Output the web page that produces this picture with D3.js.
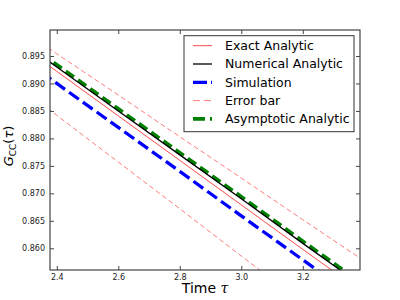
<!DOCTYPE html>
<html>
<head>
<meta charset="utf-8">
<script src="https://cdn.jsdelivr.net/npm/d3@7"></script>
<style>
  body { margin: 0; background: #fff; }
  text { font-family: "DejaVu Sans", sans-serif; }
</style>
</head>
<body>
<div id="chart"></div>
<script>
// Data
var tau = [2.35, 2.4, 2.6, 2.8, 3.0, 3.2, 3.4];
var exactAnalytic = [0.8942, 0.8922, 0.8841, 0.8760, 0.8679, 0.8598, 0.8518];
var numericalAnalytic = [0.8950, 0.8930, 0.8850, 0.8770, 0.8690, 0.8609, 0.8529];
var simulation = [0.8920, 0.8900, 0.8820, 0.8740, 0.8659, 0.8579, 0.8499];
var errorUpper = [0.8973, 0.8954, 0.8879, 0.8803, 0.8728, 0.8652, 0.8577];
var errorLower = [0.8864, 0.8842, 0.8757, 0.8672, 0.8586, 0.8501, 0.8415];
var asymptoticAnalytic = [0.8954, 0.8934, 0.8854, 0.8774, 0.8694, 0.8613, 0.8533];

var xTicks = [2.4, 2.6, 2.8, 3.0, 3.2];
var yTicks = [0.860, 0.865, 0.870, 0.875, 0.880, 0.885, 0.890, 0.895];

var margin = { top: 30, right: 40, bottom: 30, left: 50 },
    width = 400 - margin.left - margin.right,
    height = 300 - margin.top - margin.bottom;

var x = d3.scaleLinear().domain([2.378, 3.386]).range([0, width]);
var y = d3.scaleLinear().domain([0.85605, 0.89973]).range([height, 0]);

var svg = d3.select("#chart")
    .append("svg")
    .attr("width", 400)
    .attr("height", 300);

var g = svg.append("g")
    .attr("transform", "translate(" + margin.left + "," + margin.top + ")");

g.append("clipPath").attr("id", "clip")
    .append("rect").attr("width", width).attr("height", height);

var series = [
    { name: "Exact Analytic", values: exactAnalytic, color: "#ff4a4a", w: 1, dash: null, legDash: null },
    { name: "Numerical Analytic", values: numericalAnalytic, color: "#000", w: 1.3, dash: null, legDash: null },
    { name: "Simulation", values: simulation, color: "#0000ff", w: 3.3, dash: "12,5", legDash: "14,4" },
    { name: "Error bar", values: errorUpper, color: "#ff5a5a", w: 0.8, dash: "5,3", legDash: "7,4" },
    { name: "Error bar", values: errorLower, color: "#ff5a5a", w: 0.8, dash: "5,3", noLegend: true },
    { name: "Asymptotic Analytic", values: asymptoticAnalytic, color: "#008000", w: 3.6, dash: "10,5", legDash: "12,5" }
];

var line = d3.line()
    .x(function (d, i) { return x(tau[i]); })
    .y(function (d) { return y(d); });

var plot = g.append("g").attr("clip-path", "url(#clip)");

// draw in order: asymptotic under numerical
var order = [0, 2, 3, 4, 5, 1];
order.forEach(function (k) {
    var s = series[k];
    plot.append("path")
        .attr("d", line(s.values))
        .attr("fill", "none")
        .attr("stroke", s.color)
        .attr("stroke-width", s.w)
        .attr("stroke-dasharray", s.dash);
});

// Axes with inward ticks on all sides
var axisColor = "#444";
function styleAxis(sel) {
    sel.select(".domain").remove();
    sel.selectAll("line").attr("stroke", axisColor);
    sel.selectAll("text").attr("font-size", "8px").attr("fill", "#222");
}

g.append("g").attr("transform", "translate(0," + height + ")")
    .call(d3.axisBottom(x).tickValues(xTicks).tickFormat(d3.format(".1f"))
        .tickSizeInner(-4).tickSizeOuter(0).tickPadding(4))
    .call(styleAxis);
g.append("g")
    .call(d3.axisTop(x).tickValues(xTicks).tickFormat("")
        .tickSizeInner(-4).tickSizeOuter(0))
    .call(styleAxis);
g.append("g")
    .call(d3.axisLeft(y).tickValues(yTicks).tickFormat(d3.format(".3f"))
        .tickSizeInner(-4).tickSizeOuter(0).tickPadding(5))
    .call(styleAxis);
g.append("g").attr("transform", "translate(" + width + ",0)")
    .call(d3.axisRight(y).tickValues(yTicks).tickFormat("")
        .tickSizeInner(-4).tickSizeOuter(0))
    .call(styleAxis);

g.append("rect")
    .attr("width", width).attr("height", height)
    .attr("fill", "none").attr("stroke", axisColor).attr("stroke-width", 1.2);

// Legend
var legend = g.append("g").attr("transform", "translate(134,5.7)");
legend.append("rect")
    .attr("width", 170).attr("height", 96)
    .attr("fill", "#fff").attr("stroke", "#333").attr("stroke-width", 1);

var legendItems = series.filter(function (s) { return !s.noLegend; });
legendItems.forEach(function (s, i) {
    var ly = 10 + i * 18.3;
    legend.append("line")
        .attr("x1", 9).attr("x2", 28)
        .attr("y1", ly).attr("y2", ly)
        .attr("stroke", s.color)
        .attr("stroke-width", s.w)
        .attr("stroke-dasharray", s.legDash);
    legend.append("text")
        .attr("x", 41).attr("y", ly + 4.5)
        .attr("font-size", "12.5px")
        .attr("fill", "#000")
        .text(s.name);
});

// Axis labels
svg.append("text")
    .attr("x", margin.left + width / 2).attr("y", 293)
    .attr("text-anchor", "middle")
    .attr("font-size", "14px")
    .html('Time <tspan font-style="italic" font-family="DejaVu Serif">τ</tspan>');

var yl = svg.append("text")
    .attr("transform", "translate(13,146) rotate(-90)")
    .attr("text-anchor", "middle")
    .attr("font-size", "13px")
    .attr("font-family", "DejaVu Serif");
yl.append("tspan").attr("font-style", "italic").text("G");
yl.append("tspan").attr("font-size", "9px").attr("dy", 3).text("CC");
yl.append("tspan").attr("dy", -3).text("(");
yl.append("tspan").attr("font-style", "italic").text("τ");
yl.append("tspan").text(")");
</script>
</body>
</html>
